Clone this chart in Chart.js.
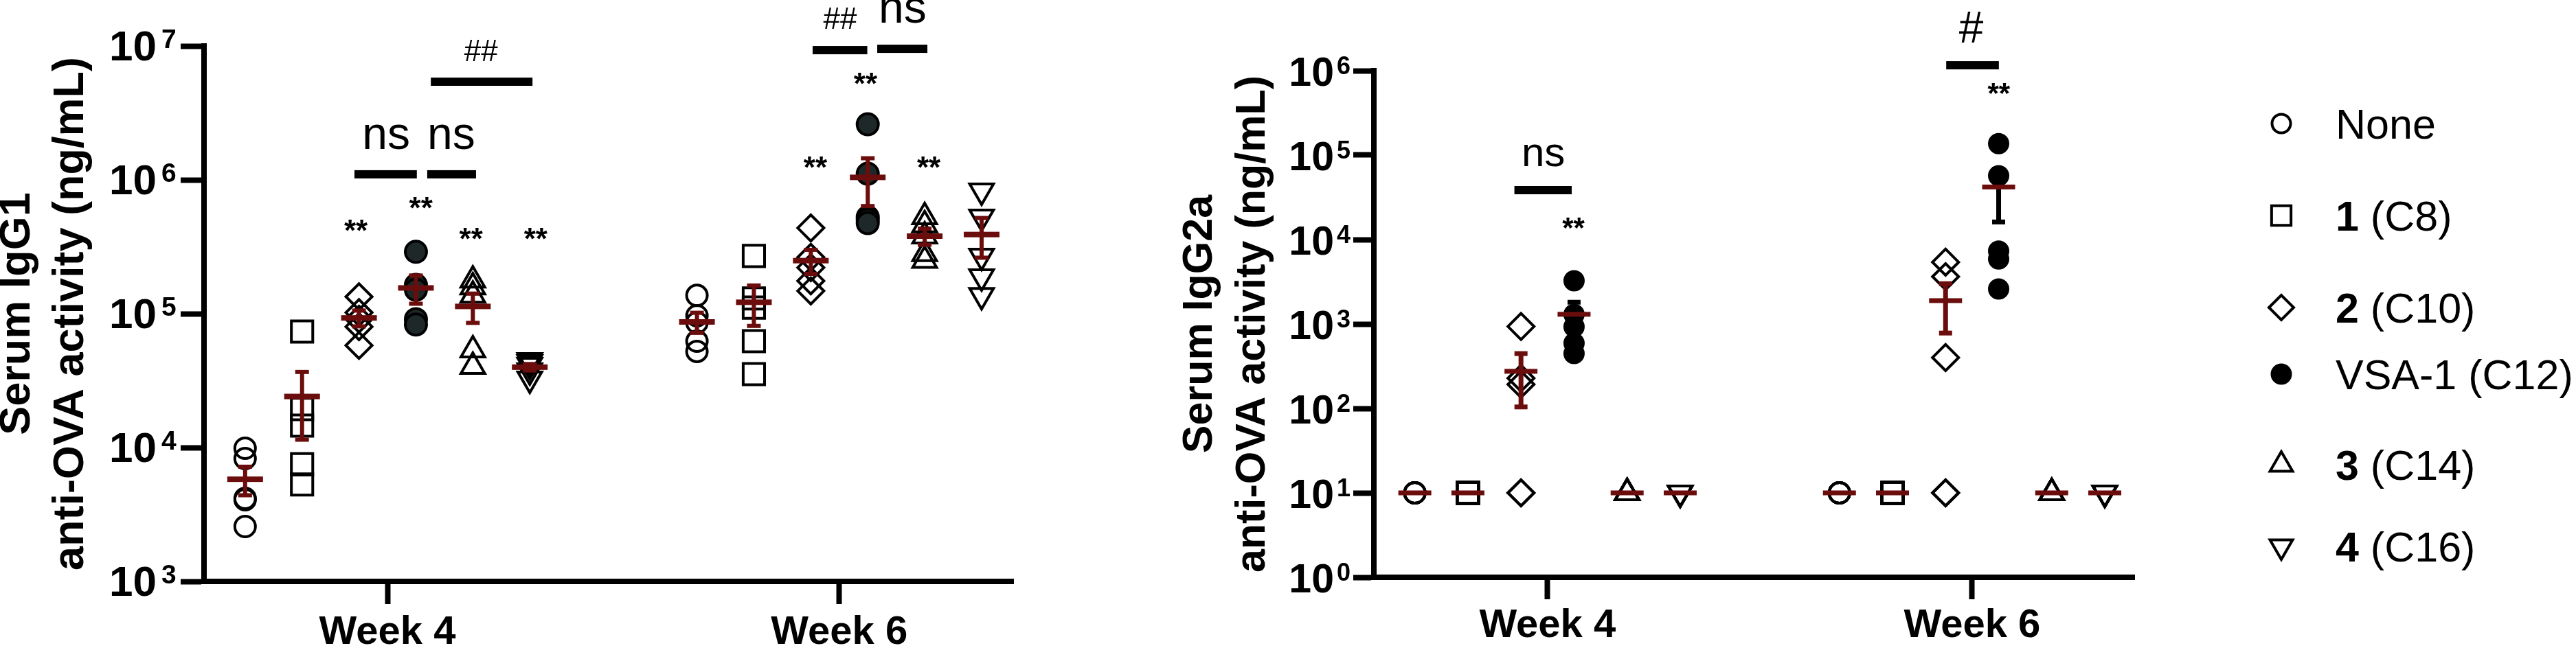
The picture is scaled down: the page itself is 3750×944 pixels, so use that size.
<!DOCTYPE html>
<html>
<head>
<meta charset="utf-8">
<script src="https://cdn.jsdelivr.net/npm/chart.js@4.4.1/dist/chart.umd.min.js"></script>
<style>
html, body { margin: 0; padding: 0; background: #fff; }
#wrap { position: relative; width: 3750px; height: 944px; overflow: hidden; background: #fff; }
.box { position: absolute; top: 0; }
</style>
</head>
<body>
<div id="wrap">
  <div class="box" style="left:0;width:1600px;height:944px"><canvas id="c1" width="1600" height="944"></canvas></div>
  <div class="box" style="left:1600px;width:2150px;height:944px"><canvas id="c2" width="2150" height="944"></canvas></div>
</div>
<script>
// ---------------- data ----------------
const weekLabels = ['Week 4', 'Week 6'];
const groupNames = ['None', '1 (C8)', '2 (C10)', 'VSA-1 (C12)', '3 (C14)', '4 (C16)'];
const groupBoldPart = ['', '1', '2', '', '3', '4'];

// Serum IgG1 anti-OVA activity (ng/mL): [Week 4 values], [Week 6 values]
const igg1None = [[9890, 8280, 4170, 4080, 2570], [137000, 96600, 85800, 62300, 52300]];
const igg1C8   = [[73600, 19400, 14600, 7500, 5300], [270000, 130000, 111000, 62400, 35400]];
const igg1C10  = [[134000, 102000, 91000, 80000, 58000], [437000, 264000, 221000, 176000, 148000]];
const igg1VSA1 = [[290000, 164000, 151000, 91000, 83000], [2600000, 1112000, 528000, 504000, 475000]];
const igg1C14  = [[178000, 158000, 137000, 53500, 40300], [528000, 460000, 380000, 280000, 250000]];
const igg1C16  = [[44800, 43300, 41200, 37500, 32600], [828000, 528000, 270000, 189000, 137000]];

// Serum IgG2a anti-OVA activity (ng/mL)
const igg2aNone = [[10, 10, 10, 10, 10], [10, 10, 10, 10, 10]];
const igg2aC8   = [[10, 10, 10, 10, 10], [10, 10, 10, 10, 10]];
const igg2aC10  = [[935, 228, 193, 10, 10], [5400, 3640, 400, 10, 10]];
const igg2aVSA1 = [[3250, 1300, 928, 592, 447], [137000, 57000, 7300, 5900, 2600]];
const igg2aC14  = [[10, 10, 10, 10, 10], [10, 10, 10, 10, 10]];
const igg2aC16  = [[10, 10, 10, 10, 10], [10, 10, 10, 10, 10]];

const igg1TickExponents = [3, 4, 5, 6, 7];
const igg2aTickExponents = [0, 1, 2, 3, 4, 5, 6];

// significance annotations (x in week units, y in ng/mL)
const igg1Texts = [
  {x: 0.930, y: 350e3, t: '**', size: 44, bold: true},
  {x: 1.074, y: 517e3, t: '**', size: 44, bold: true},
  {x: 1.185, y: 303e3, t: '**', size: 44, bold: true},
  {x: 1.328, y: 303e3, t: '**', size: 44, bold: true},
  {x: 0.997, y: 1.70e6, t: 'ns', size: 66, bold: false},
  {x: 1.141, y: 1.70e6, t: 'ns', size: 66, bold: false},
  {x: 1.207, y: 7.71e6, t: '##', size: 44, bold: false},
  {x: 2.002, y: 1.34e7, t: '##', size: 44, bold: false},
  {x: 2.140, y: 1.49e7, t: 'ns', size: 66, bold: false},
  {x: 2.058, y: 4.37e6, t: '**', size: 44, bold: true},
  {x: 1.947, y: 1.035e6, t: '**', size: 44, bold: true},
  {x: 2.198, y: 1.035e6, t: '**', size: 44, bold: true}
];
const igg1Bars = [
  {x1: 0.927, x2: 1.065, y: 1.10e6},
  {x1: 1.088, x2: 1.196, y: 1.10e6},
  {x1: 1.096, x2: 1.321, y: 5.41e6},
  {x1: 1.941, x2: 2.062, y: 9.31e6},
  {x1: 2.084, x2: 2.195, y: 9.53e6}
];
const igg2aTexts = [
  {x: 0.990, y: 74.1e3, t: 'ns', size: 60, bold: false},
  {x: 1.061, y: 10.6e3, t: '**', size: 42, bold: true},
  {x: 1.998, y: 2.15e6, t: '#', size: 64, bold: false},
  {x: 2.063, y: 415e3, t: '**', size: 42, bold: true}
];
const igg2aBars = [
  {x1: 0.922, x2: 1.057, y: 38.5e3},
  {x1: 1.939, x2: 2.063, y: 1.16e6}
];

// ---------------- styling ----------------
const FONT = "'Liberation Sans', Arial, sans-serif";
const RED = '#6b0d0d';
Chart.defaults.font.family = FONT;
Chart.defaults.color = '#000';

const MARKS = [
  {style: 'circle', r: 15, rot: 0, filled: false},
  {style: 'rect', r: 22, rot: 0, filled: false},
  {style: 'rectRot', r: 19, rot: 0, filled: false},
  {style: 'circle', r: 15.5, rot: 0, filled: true},
  {style: 'triangle', r: 20, rot: 0, filled: false},
  {style: 'triangle', r: 20, rot: 180, filled: false}
];

function meanSem(a) {
  const n = a.length;
  const m = a.reduce((s, v) => s + v, 0) / n;
  const sd = Math.sqrt(a.reduce((s, v) => s + (v - m) * (v - m), 0) / (n - 1));
  return [m, sd / Math.sqrt(n)];
}

function makeDatasets(groups, step, filledColor) {
  return groups.map((vals, g) => {
    const mk = MARKS[g];
    const data = [];
    vals.forEach((arr, w) => arr.forEach(v => data.push({x: w + 1 + (g - 2.5) * step, y: v})));
    return {
      label: groupNames[g],
      data,
      groupValues: vals,
      pointStyle: mk.style,
      pointRadius: g === 3 ? (filledColor === '#000' ? 14 : 15.5) : mk.r,
      rotation: mk.rot,
      pointRotation: mk.rot,
      pointBorderWidth: g === 3 && filledColor === '#000' ? 3 : 4,
      borderWidth: 4,
      pointBackgroundColor: mk.filled ? filledColor : 'rgba(0,0,0,0)',
      backgroundColor: mk.filled ? filledColor : 'rgba(0,0,0,0)',
      pointBorderColor: '#000',
      borderColor: '#000',
      showLine: false
    };
  });
}

function meanSemPlugin(p) {
  return {
    id: 'meanSem',
    afterDatasetsDraw(chart) {
      const {ctx} = chart;
      const xs = chart.scales.x, ys = chart.scales.y;
      chart.data.datasets.forEach((ds, g) => {
        ds.groupValues.forEach((vals, w) => {
          const [m, s] = meanSem(vals);
          const px = xs.getPixelForValue(w + 1 + (g - 2.5) * p.step);
          const py = ys.getPixelForValue(m);
          ctx.save();
          if (s > 0) {
            const t = ys.getPixelForValue(m + s), b = ys.getPixelForValue(m - s);
            ctx.fillStyle = p.errColor[g] || RED;
            ctx.fillRect(px - p.vW / 2, t, p.vW, b - t);
            ctx.fillRect(px - p.capW / 2, t - p.capT / 2, p.capW, p.capT);
            ctx.fillRect(px - p.capW / 2, b - p.capT / 2, p.capW, p.capT);
          }
          ctx.fillStyle = RED;
          ctx.fillRect(px - p.meanW / 2, py - p.meanT / 2, p.meanW, p.meanT);
          ctx.restore();
        });
      });
    }
  };
}

function tickLabelPlugin(p) {
  return {
    id: 'expTicks',
    afterDraw(chart) {
      const {ctx} = chart;
      const ys = chart.scales.y;
      const tickStart = ys.right - p.tl;
      ctx.save();
      ctx.fillStyle = '#000';
      ctx.textBaseline = 'alphabetic';
      ys.ticks.forEach(t => {
        const py = ys.getPixelForValue(t.value);
        const e = Math.round(Math.log10(t.value));
        ctx.font = 'bold ' + p.base + 'px ' + FONT;
        ctx.textAlign = 'right';
        ctx.fillText('10', tickStart - p.baseGap, py + p.baseDy);
        ctx.font = 'bold ' + p.sup + 'px ' + FONT;
        ctx.textAlign = 'left';
        ctx.fillText(String(e), tickStart - p.supGap, py + p.supDy);
      });
      ctx.restore();
    }
  };
}

function annotationPlugin(texts, bars, barT) {
  return {
    id: 'annot',
    afterDraw(chart) {
      const {ctx} = chart;
      const xs = chart.scales.x, ys = chart.scales.y;
      ctx.save();
      ctx.fillStyle = '#000';
      bars.forEach(b => {
        const x1 = xs.getPixelForValue(b.x1), x2 = xs.getPixelForValue(b.x2);
        const y = ys.getPixelForValue(b.y);
        ctx.fillRect(x1, y - barT / 2, x2 - x1, barT);
      });
      ctx.textAlign = 'center';
      ctx.textBaseline = 'alphabetic';
      texts.forEach(a => {
        ctx.font = (a.bold ? 'bold ' : '') + a.size + 'px ' + FONT;
        ctx.fillText(a.t, xs.getPixelForValue(a.x), ys.getPixelForValue(a.y));
      });
      ctx.restore();
    }
  };
}

function drawMarker(ctx, style, x, y, r, rotDeg) {
  const rad = rotDeg * Math.PI / 180;
  ctx.beginPath();
  if (style === 'circle') {
    ctx.arc(x, y, r, 0, Math.PI * 2);
  } else if (style === 'rect') {
    const s = Math.SQRT1_2 * r;
    ctx.rect(x - s, y - s, 2 * s, 2 * s);
  } else if (style === 'rectRot') {
    ctx.moveTo(x - r, y); ctx.lineTo(x, y - r); ctx.lineTo(x + r, y); ctx.lineTo(x, y + r);
    ctx.closePath();
  } else if (style === 'triangle') {
    let a = rad;
    ctx.moveTo(x + Math.sin(a) * r, y - Math.cos(a) * r);
    a += 2 * Math.PI / 3;
    ctx.lineTo(x + Math.sin(a) * r, y - Math.cos(a) * r);
    a += 2 * Math.PI / 3;
    ctx.lineTo(x + Math.sin(a) * r, y - Math.cos(a) * r);
    ctx.closePath();
  }
}

const legendPlugin = {
  id: 'sideLegend',
  afterDraw(chart) {
    const {ctx} = chart;
    const markerX = 1721, textX = 1800;
    const rowsY = [180, 314, 448, 545, 677, 796];
    const legendR = [13.5, 20, 18, 15.5, 19, 19];
    ctx.save();
    groupNames.forEach((name, g) => {
      const mk = MARKS[g];
      const cy = rowsY[g];
      drawMarker(ctx, mk.style, markerX, cy, legendR[g], mk.rot);
      if (mk.filled) { ctx.fillStyle = '#000'; ctx.fill(); }
      else { ctx.lineWidth = 4; ctx.strokeStyle = '#000'; ctx.lineJoin = 'miter'; ctx.stroke(); }
      ctx.fillStyle = '#000';
      ctx.textAlign = 'left';
      ctx.textBaseline = 'alphabetic';
      const base = cy + 22;
      let x = textX;
      const bold = groupBoldPart[g];
      let rest = name;
      if (bold) {
        ctx.font = 'bold 61px ' + FONT;
        ctx.fillText(bold, x, base);
        x += ctx.measureText(bold).width;
        rest = name.slice(bold.length);
      }
      ctx.font = '61px ' + FONT;
      ctx.fillText(rest, x, base);
    });
    ctx.restore();
  }
};

function buildChart(canvasId, groups, cfg) {
  return new Chart(document.getElementById(canvasId), {
    type: 'scatter',
    data: {datasets: makeDatasets(groups, cfg.step, cfg.filled)},
    options: {
      responsive: false,
      animation: false,
      events: [],
      devicePixelRatio: 1,
      layout: {padding: cfg.padding},
      plugins: {legend: {display: false}, tooltip: {enabled: false}},
      scales: {
        x: {
          type: 'linear', min: cfg.xMin, max: cfg.xMax,
          afterBuildTicks: s => { s.ticks = weekLabels.map((w, i) => ({value: i + 1})); },
          afterFit: s => { s.height = cfg.xHeight; },
          ticks: {
            callback: (v, i) => weekLabels[i],
            font: {size: 58, weight: 'bold'}, padding: cfg.xPad, color: '#000',
            maxRotation: 0, autoSkip: false
          },
          grid: {drawOnChartArea: false, drawTicks: true, tickLength: cfg.xTl, tickWidth: 8, tickColor: '#000'},
          border: {display: true, width: 8, color: '#000'}
        },
        y: {
          type: 'logarithmic', min: cfg.yMin, max: cfg.yMax,
          afterBuildTicks: s => { s.ticks = cfg.exps.map(e => ({value: Math.pow(10, e)})); },
          afterFit: s => { s.width = cfg.yWidth; },
          ticks: {display: false},
          grid: {drawOnChartArea: false, drawTicks: true, tickLength: cfg.yTl, tickWidth: 8, tickColor: '#000'},
          border: {display: true, width: 8, color: '#000'},
          title: {
            display: true, text: cfg.title, color: '#000',
            font: {size: cfg.titleSize, weight: 'bold', lineHeight: cfg.titleLH + 'px'},
            padding: {top: cfg.titlePad, bottom: 0}
          }
        }
      }
    },
    plugins: cfg.plugins
  });
}

buildChart('c1', [igg1None, igg1C8, igg1C10, igg1VSA1, igg1C14, igg1C16], {
  step: 0.126, filled: '#1e2828',
  padding: {left: 0, top: 67, right: 125, bottom: 0},
  xMin: 0.594, xMax: 2.385, xHeight: 97, xPad: 7, xTl: 33,
  yMin: 1e3, yMax: 1e7, exps: igg1TickExponents, yWidth: 297, yTl: 34,
  title: ['Serum IgG1', 'anti-OVA activity (ng/mL)'], titleSize: 63, titleLH: 78, titlePad: -13,
  plugins: [
    meanSemPlugin({step: 0.126, errColor: {}, vW: 6, capW: 20, capT: 6, meanW: 52, meanT: 8}),
    tickLabelPlugin({tl: 34, base: 62, sup: 39, baseGap: 35, supGap: 28, baseDy: 21, supDy: 3}),
    annotationPlugin(igg1Texts, igg1Bars, 12)
  ]
});

buildChart('c2', [igg2aNone, igg2aC8, igg2aC10, igg2aVSA1, igg2aC14, igg2aC16], {
  step: 0.125, filled: '#000',
  padding: {left: 100, top: 103, right: 643, bottom: 0},
  xMin: 0.591, xMax: 2.382, xHeight: 103, xPad: 4, xTl: 32,
  yMin: 1, yMax: 1e6, exps: igg2aTickExponents, yWidth: 300, yTl: 30,
  title: ['Serum IgG2a', 'anti-OVA activity (ng/mL)'], titleSize: 61, titleLH: 77, titlePad: 8.5,
  plugins: [
    meanSemPlugin({step: 0.125, errColor: {3: '#000'}, vW: 7, capW: 19, capT: 7, meanW: 48, meanT: 7}),
    tickLabelPlugin({tl: 30, base: 59, sup: 36, baseGap: 28, supGap: 24, baseDy: 22, supDy: 5}),
    annotationPlugin(igg2aTexts, igg2aBars, 12),
    legendPlugin
  ]
});
</script>
</body>
</html>
